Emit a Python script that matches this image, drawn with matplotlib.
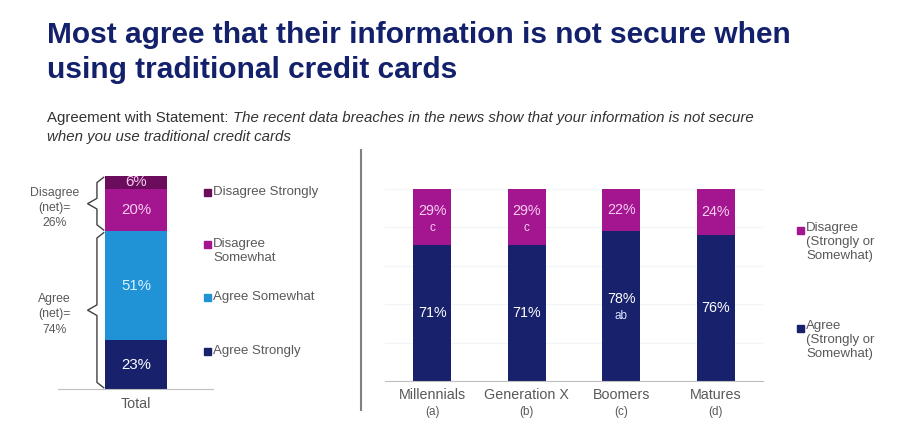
import numpy as np
import matplotlib
matplotlib.use('Agg')
import matplotlib.pyplot as plt
from matplotlib.patches import Rectangle
from matplotlib.lines import Line2D

plt.rcParams['font.family'] = ['Liberation Sans', 'DejaVu Sans']

# ---- data ----
total_labels = ['Agree Strongly', 'Agree Somewhat', 'Disagree Somewhat', 'Disagree Strongly']
total_legend = ['Agree Strongly', 'Agree Somewhat', 'Disagree\nSomewhat', 'Disagree Strongly']
total_values = [23, 51, 20, 6]
net_labels = ['Agree\n(net)=\n74%', 'Disagree\n(net)=\n26%']
net_values = [74, 26]

groups = ['Millennials', 'Generation X', 'Boomers', 'Matures']
group_letters = ['(a)', '(b)', '(c)', '(d)']
agree = [71, 71, 78, 76]
disagree = [29, 29, 22, 24]
agree_sig = ['', '', 'ab', '']
disagree_sig = ['c', 'c', '', '']
group_legend = ['Disagree\n(Strongly or\nSomewhat)', 'Agree\n(Strongly or\nSomewhat)']

NAVY = '#17216c'
MAGENTA = '#a3168f'
PURPLE = '#6b0d5c'
BLUE = '#1f93d6'
GREY = '#595959'
total_colors = [NAVY, BLUE, MAGENTA, PURPLE]
total_text = ['white', '#d9f3ff', '#f8ccf0', '#f8ccf0']

W, H = 900, 447
fig = plt.figure(figsize=(W / 100, H / 100), dpi=100)


def fx(x):
    return x / W


def fy(y):
    return 1 - y / H


# ---- title / subtitle ----
fig.text(fx(47), fy(78), 'Most agree that their information is not secure when\nusing traditional credit cards',
         fontsize=21.5, fontweight='bold', color='#13206b', va='baseline', linespacing=1.32)
r = fig.canvas.get_renderer()
t1 = fig.text(fx(47), fy(118), 'Agreement with Statement: ', fontsize=10.8, color='#333333', va='center')
bb = t1.get_window_extent(r)
fig.text(bb.x1 / W, fy(118), 'The recent data breaches in the news show that your information is not secure',
         fontsize=10.8, color='#333333', va='center', style='italic')
fig.text(fx(47), fy(137), 'when you use traditional credit cards',
         fontsize=10.8, color='#333333', va='center', style='italic')

# separator
fig.add_artist(Line2D([fx(361), fx(361)], [fy(150), fy(410)], color='#808080', lw=1.5))

# ---- left chart: Total ----
ax1 = fig.add_axes([fx(58), fy(389), fx(213) - fx(58), (389 - 176) / H])
bottom = 0
for v, c, tc in zip(total_values, total_colors, total_text):
    ax1.bar(0, v, bottom=bottom, width=1, color=c, linewidth=0)
    ax1.text(0, bottom + v / 2, f'{v}%', ha='center', va='center', color=tc, fontsize=10.8)
    bottom += v
ax1.set_xlim(-1.258, 1.242)
ax1.set_ylim(0, 100)
for s in ['top', 'right', 'left']:
    ax1.spines[s].set_visible(False)
ax1.spines['bottom'].set_color('#bfbfbf')
ax1.set_yticks([])
ax1.set_xticks([0])
ax1.set_xticklabels(['Total'], fontsize=10.3, color=GREY)
ax1.tick_params(axis='x', length=0, pad=6)

# braces for net values
xv, xin, xtip = -0.63, -0.52, -0.78
lo = 0
for lab, v in zip(net_labels, net_values):
    y0, y1 = lo + 0.6, lo + v - 0.6
    ym = (y0 + y1) / 2
    d = 2.5
    ax1.plot([xin, xv, xv, xtip, xv, xv, xin], [y0, y0 + d, ym - d, ym, ym + d, y1 - d, y1],
             color='#404040', lw=1, clip_on=False)
    ax1.text(-1.31, ym - 2, lab, ha='center', va='center', fontsize=8.8, color=GREY, linespacing=1.35)
    lo += v

# left legend (top to bottom)
leg_rows = [192, 245, 297, 351]
for lab, c, y in zip(total_legend[::-1], total_colors[::-1], leg_rows):
    fig.add_artist(Rectangle((fx(204), fy(y) - 3.5 / H), 7 / W, 7 / H, color=c, transform=fig.transFigure))
    if '\n' in lab:
        fig.text(fx(213), fy(y) + 7.5 / H, lab, fontsize=9.5, color=GREY, va='top', linespacing=1.25)
    else:
        fig.text(fx(213), fy(y), lab, fontsize=9.5, color=GREY, va='center')

# ---- right chart: by generation ----
ax2 = fig.add_axes([fx(385), fy(381), fx(763) - fx(385), (381 - 189) / H])
x = np.arange(len(groups))
ax2.bar(x, agree, width=0.4, color=NAVY, linewidth=0, zorder=2)
ax2.bar(x, disagree, bottom=agree, width=0.4, color=MAGENTA, linewidth=0, zorder=2)
for i in range(len(groups)):
    ya = agree[i] / 2
    yd = agree[i] + disagree[i] / 2
    if agree_sig[i]:
        ax2.annotate(f'{agree[i]}%', (x[i], ya), xytext=(0, 5), textcoords='offset points',
                     ha='center', va='center', color='white', fontsize=10.3)
        ax2.annotate(agree_sig[i], (x[i], ya), xytext=(0, -7), textcoords='offset points',
                     ha='center', va='center', color='#dde3ff', fontsize=8.5)
    else:
        ax2.text(x[i], ya, f'{agree[i]}%', ha='center', va='center', color='white', fontsize=10.3)
    if disagree_sig[i]:
        ax2.annotate(f'{disagree[i]}%', (x[i], yd), xytext=(0, 4), textcoords='offset points',
                     ha='center', va='center', color='#f8ccf0', fontsize=10.3)
        ax2.annotate(disagree_sig[i], (x[i], yd), xytext=(0, -8), textcoords='offset points',
                     ha='center', va='center', color='#f8ccf0', fontsize=8.5)
    else:
        ax2.text(x[i], yd, f'{disagree[i]}%', ha='center', va='center', color='#f8ccf0', fontsize=10.3)
    ax2.annotate(group_letters[i], (x[i], 0), xytext=(0, -22), textcoords='offset points',
                 ha='center', va='center', color=GREY, fontsize=8.4, annotation_clip=False)

ax2.set_xlim(-0.5, 3.5)
ax2.set_ylim(0, 100)
ax2.set_yticks(np.arange(0, 101, 20))
ax2.set_yticklabels([])
ax2.tick_params(axis='y', length=0)
ax2.grid(axis='y', color='#f1f5f8', lw=1, zorder=0)
for s in ['top', 'right', 'left']:
    ax2.spines[s].set_visible(False)
ax2.spines['bottom'].set_color('#bfbfbf')
ax2.set_xticks(x)
ax2.set_xticklabels(groups, fontsize=10.3, color=GREY)
ax2.tick_params(axis='x', length=0, pad=5)

# right legend
for lab, c, y in zip(group_legend, [MAGENTA, NAVY], [230, 328]):
    fig.add_artist(Rectangle((fx(797), fy(y) - 3.5 / H), 7 / W, 7 / H, color=c, transform=fig.transFigure))
    fig.text(fx(806), fy(y) + 7.5 / H, lab, fontsize=9.5, color=GREY, va='top', linespacing=1.2)

fig.savefig('out.png', dpi=100)
